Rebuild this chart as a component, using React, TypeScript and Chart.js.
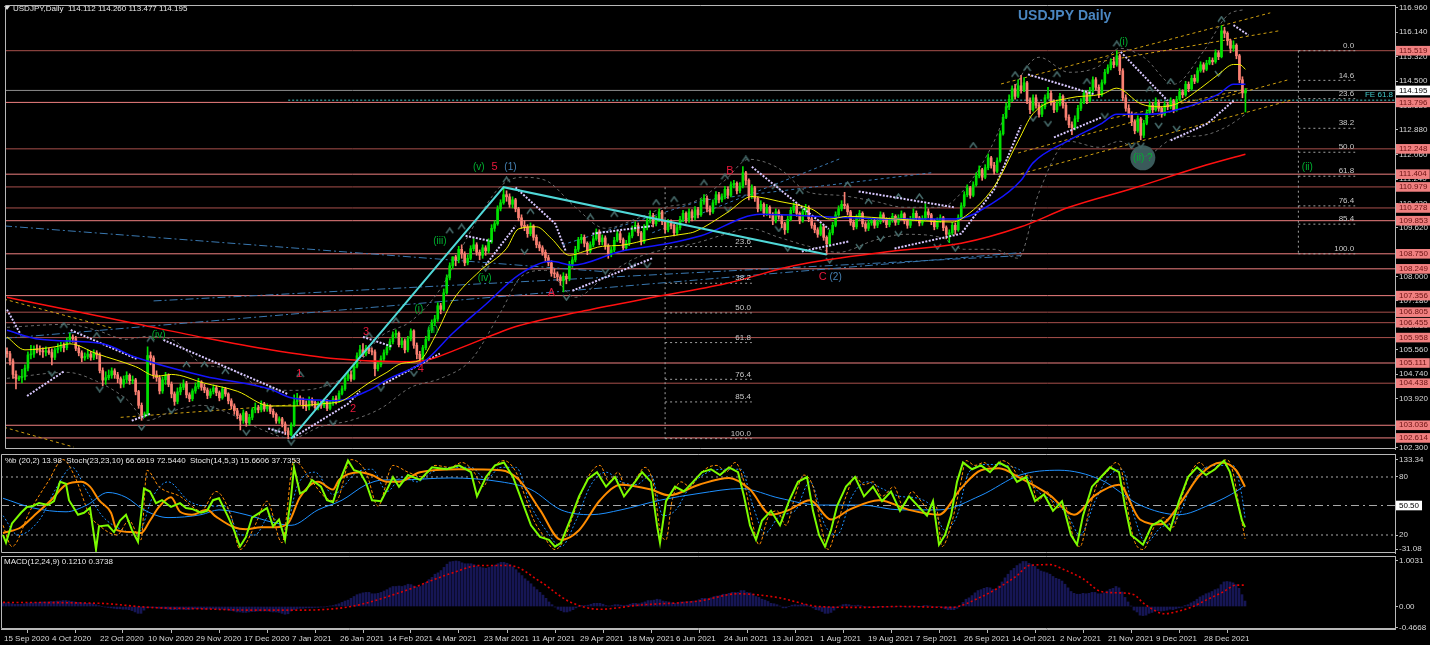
import React, { useEffect, useRef } from "react";
import { Chart, registerables } from "chart.js";

Chart.register(...registerables);

const NARROW = "'Liberation Sans Narrow','Liberation Sans',Arial,sans-serif";
const SANS = "'Liberation Sans',Arial,sans-serif";

// ---------------- price data (daily candles, bar index 0 = 15 Sep 2020) ----------------
const firstOpen = 105.5;
const closes = [
  105.42,105.18,104.73,104.58,104.62,104.66,104.94,105.38,105.41,105.58,
  105.55,105.50,105.48,105.52,105.46,105.30,105.55,105.61,105.70,105.62,
  105.85,105.98,105.92,105.60,105.45,105.28,105.33,105.41,105.30,105.45,
  105.38,104.86,104.54,104.62,104.70,104.85,104.72,104.59,104.41,104.56,
  104.70,104.52,104.55,104.16,103.70,103.38,103.41,105.36,105.28,104.72,
  104.62,104.18,104.55,104.70,104.40,104.08,103.83,104.15,104.30,104.42,
  104.05,103.92,104.18,104.32,104.48,104.30,104.21,104.03,104.16,104.28,
  104.12,103.95,104.25,104.08,103.85,103.68,103.52,103.36,103.20,103.45,
  103.12,103.30,103.55,103.62,103.55,103.75,103.58,103.68,103.50,103.40,
  103.18,103.25,103.08,102.85,102.72,103.05,103.82,103.95,103.88,103.72,
  103.65,103.90,103.80,103.62,103.75,103.70,103.85,103.60,103.78,103.92,
  103.85,104.10,104.25,104.60,104.72,104.58,105.00,105.35,105.55,105.40,
  105.60,105.52,105.48,104.92,105.05,105.25,105.45,105.62,105.82,106.05,
  106.10,105.72,105.85,105.55,105.92,106.18,105.70,105.40,105.25,105.62,
  105.90,106.20,106.45,106.58,107.02,106.90,107.45,107.95,108.35,108.65,
  108.55,108.90,108.75,108.45,108.60,108.92,109.05,108.80,108.70,108.95,
  108.85,109.15,109.60,109.75,110.25,110.45,110.72,110.65,110.40,110.55,
  110.25,109.95,109.70,109.65,109.42,109.68,109.30,109.05,108.95,108.80,
  108.62,108.45,108.10,108.08,107.98,107.85,108.00,107.92,108.40,108.55,
  108.90,109.22,109.30,109.10,108.85,109.05,109.25,109.48,109.15,109.28,
  109.02,108.75,108.88,109.20,109.42,109.22,108.95,109.10,109.35,109.58,
  109.70,109.45,109.15,109.62,109.85,110.02,109.75,109.90,110.15,109.82,
  109.55,109.80,109.70,109.45,109.62,109.90,110.10,109.88,110.15,109.95,
  110.22,110.05,110.48,110.60,110.25,110.15,110.45,110.72,110.55,110.65,
  110.90,110.70,111.05,111.10,110.85,111.00,111.45,111.20,110.68,110.95,
  110.60,110.25,110.40,110.10,110.30,110.05,109.85,110.15,110.00,109.75,
  109.55,109.90,110.20,110.35,110.10,109.85,110.15,110.30,109.92,109.70,
  109.55,109.40,109.65,109.30,109.08,109.45,109.70,110.05,110.25,110.40,
  110.35,110.15,109.80,109.65,109.95,110.10,109.75,109.60,109.78,109.85,
  109.70,109.82,110.05,109.90,109.72,109.88,110.00,109.80,109.95,110.08,
  109.85,109.70,109.90,110.10,109.95,109.78,109.92,110.15,110.05,109.82,
  109.65,109.88,109.95,109.62,109.40,109.45,109.70,109.55,109.95,110.35,
  110.72,110.95,110.70,111.05,111.35,111.55,111.30,111.62,111.95,111.70,
  111.50,111.85,112.75,113.30,113.65,113.90,114.25,114.00,114.35,114.20,
  114.45,113.85,113.55,113.95,113.70,113.40,113.65,113.95,114.10,113.80,
  113.55,113.75,114.00,113.70,113.30,113.05,112.95,113.25,113.60,113.80,
  114.10,113.85,114.20,114.55,114.30,114.05,114.45,114.80,114.95,115.15,
  115.05,115.35,114.85,113.95,113.60,113.40,113.15,112.85,113.25,112.70,
  113.10,113.45,113.70,113.55,113.80,113.60,113.40,113.72,113.65,113.85,
  113.55,113.90,114.15,114.05,114.40,114.25,114.60,114.50,114.85,115.05,
  114.90,115.10,115.20,115.15,115.45,115.32,116.18,116.10,115.85,115.60,
  115.70,115.35,114.55,114.112,114.195,
];
const highs = [
  105.62,105.50,105.25,104.85,104.68,104.90,105.05,105.48,105.70,105.68,
  105.72,105.68,105.62,105.65,105.60,105.58,105.62,105.75,105.80,105.78,
  105.95,106.11,106.05,106.00,105.70,105.52,105.45,105.55,105.50,105.55,
  105.52,105.45,104.95,104.82,104.88,104.95,104.92,104.80,104.65,104.68,
  104.82,104.75,104.68,104.60,104.20,103.78,103.48,105.65,105.48,105.35,
  104.85,104.70,104.65,104.80,104.75,104.48,104.15,104.28,104.42,104.55,
  104.50,104.12,104.25,104.45,104.60,104.52,104.40,104.28,104.25,104.38,
  104.35,104.18,104.32,104.30,104.12,103.92,103.75,103.60,103.42,103.55,
  103.50,103.40,103.62,103.78,103.70,103.85,103.80,103.75,103.72,103.58,
  103.45,103.32,103.30,103.15,102.95,103.12,104.05,104.10,104.02,103.95,
  103.85,103.98,103.95,103.85,103.82,103.85,103.92,103.90,103.85,104.00,
  104.02,104.18,104.35,104.70,104.80,104.85,105.10,105.45,105.70,105.76,
  105.70,105.68,105.62,105.55,105.15,105.35,105.55,105.72,105.92,106.15,
  106.22,106.15,105.95,105.92,106.00,106.25,106.22,105.78,105.50,105.70,
  106.00,106.30,106.55,106.70,107.12,107.10,107.58,108.05,108.45,108.65,
  108.70,109.00,109.05,108.82,108.72,109.02,109.25,109.12,108.88,109.05,
  109.02,109.25,109.72,109.85,110.35,110.55,110.97,110.85,110.75,110.65,
  110.60,110.30,110.05,109.85,109.72,109.78,109.72,109.38,109.15,109.02,
  108.88,108.70,108.52,108.25,108.15,108.05,108.12,108.08,108.50,108.65,
  109.00,109.30,109.40,109.38,109.15,109.15,109.35,109.58,109.55,109.38,
  109.35,109.08,108.98,109.30,109.52,109.50,109.28,109.20,109.45,109.68,
  109.82,109.78,109.50,109.72,109.95,110.18,110.10,110.00,110.25,110.20,
  109.88,109.90,109.88,109.75,109.72,110.00,110.20,110.15,110.25,110.22,
  110.32,110.30,110.58,110.72,110.68,110.35,110.55,110.82,110.80,110.75,
  111.00,110.98,111.15,111.20,111.15,111.12,111.66,111.50,111.25,111.05,
  111.00,110.65,110.52,110.45,110.40,110.35,110.12,110.25,110.22,110.05,
  109.80,110.00,110.30,110.45,110.42,110.15,110.25,110.40,110.35,109.98,
  109.78,109.62,109.75,109.70,109.35,109.55,109.80,110.15,110.35,110.52,
  110.80,110.42,110.20,109.88,110.05,110.20,110.15,109.82,109.88,109.95,
  109.92,109.90,110.15,110.12,109.95,109.95,110.10,110.05,110.05,110.18,
  110.12,109.92,110.00,110.25,110.18,110.00,110.02,110.42,110.25,110.10,
  109.90,109.95,110.05,110.00,109.68,109.55,109.80,109.78,110.05,110.45,
  110.82,111.05,111.00,111.15,111.45,111.68,111.60,111.72,112.08,112.00,
  111.80,111.95,112.85,113.40,113.78,114.05,114.35,114.40,114.55,114.70,
  114.62,114.50,113.95,114.05,114.05,113.78,113.75,114.05,114.30,114.18,
  113.88,113.85,114.10,114.05,113.78,113.38,113.15,113.35,113.70,113.92,
  114.20,114.15,114.30,114.65,114.62,114.38,114.55,114.90,115.05,115.25,
  115.30,115.52,115.40,114.92,114.05,113.72,113.48,113.22,113.35,113.30,
  113.20,113.55,113.82,113.78,113.95,113.88,113.65,113.82,113.80,113.95,
  113.90,114.00,114.25,114.22,114.50,114.48,114.70,114.72,114.95,115.15,
  115.12,115.20,115.30,115.28,115.55,115.52,116.35,116.30,116.15,115.90,
  115.85,115.75,115.40,114.65,114.26,
];
const lows = [
  105.30,105.05,104.60,104.25,104.52,104.45,104.55,104.85,105.25,105.30,
  105.45,105.38,105.30,105.35,105.40,105.05,105.22,105.45,105.50,105.48,
  105.55,105.78,105.80,105.52,105.35,105.15,105.20,105.25,105.20,105.22,
  105.25,104.78,104.35,104.40,104.55,104.60,104.60,104.45,104.28,104.30,
  104.45,104.40,104.42,104.05,103.60,103.20,103.30,103.35,105.05,104.60,
  104.50,104.08,104.10,104.40,104.32,103.95,103.70,103.75,104.05,104.22,
  103.95,103.82,103.85,104.10,104.25,104.20,104.12,103.92,103.95,104.08,
  104.02,103.85,103.90,104.00,103.75,103.58,103.40,103.25,102.88,103.10,
  103.00,103.05,103.22,103.45,103.45,103.48,103.50,103.50,103.42,103.30,
  103.10,103.10,102.98,102.72,102.59,102.68,103.00,103.70,103.72,103.60,
  103.52,103.55,103.68,103.52,103.55,103.60,103.62,103.52,103.55,103.70,
  103.75,103.80,104.05,104.20,104.52,104.50,104.55,104.95,105.28,105.32,
  105.35,105.42,105.38,104.68,104.85,104.98,105.18,105.38,105.55,105.75,
  105.95,105.65,105.62,105.45,105.48,105.85,105.60,105.25,105.15,105.20,
  105.55,105.85,106.12,106.35,106.50,106.75,106.85,107.40,107.88,108.25,
  108.35,108.45,108.60,108.35,108.38,108.55,108.85,108.70,108.55,108.60,
  108.70,108.78,109.10,109.50,109.70,110.18,110.40,110.50,110.30,110.28,
  110.15,109.85,109.60,109.52,109.30,109.35,109.20,108.95,108.85,108.70,
  108.50,108.35,108.00,107.95,107.85,107.70,107.48,107.75,107.85,108.30,
  108.48,108.82,109.10,108.98,108.72,108.78,108.98,109.20,109.05,109.05,
  108.90,108.60,108.65,108.82,109.15,109.12,108.85,108.88,109.02,109.28,
  109.50,109.35,109.05,109.10,109.55,109.78,109.65,109.68,109.82,109.72,
  109.45,109.48,109.58,109.35,109.38,109.55,109.82,109.78,109.80,109.85,
  109.88,109.95,110.00,110.40,110.15,110.05,110.10,110.38,110.45,110.48,
  110.58,110.60,110.65,110.95,110.75,110.78,110.95,111.05,110.55,110.60,
  110.50,110.15,110.18,110.00,110.02,109.95,109.72,109.78,109.90,109.62,
  109.40,109.45,109.85,110.12,110.00,109.75,109.80,110.05,109.82,109.60,
  109.45,109.30,109.35,109.20,108.72,109.00,109.38,109.65,109.98,110.18,
  110.25,110.05,109.70,109.55,109.58,109.88,109.65,109.50,109.52,109.70,
  109.60,109.62,109.75,109.80,109.62,109.65,109.80,109.70,109.72,109.88,
  109.75,109.60,109.62,109.85,109.85,109.68,109.70,109.85,109.95,109.72,
  109.55,109.58,109.80,109.52,109.25,109.12,109.38,109.40,109.50,109.90,
  110.30,110.65,110.60,110.65,111.00,111.28,111.20,111.25,111.55,111.60,
  111.40,111.45,111.80,112.70,113.25,113.55,113.82,113.90,113.95,114.10,
  114.15,113.75,113.42,113.50,113.60,113.30,113.32,113.58,113.90,113.70,
  113.45,113.48,113.68,113.60,113.20,112.95,112.72,112.88,113.15,113.52,
  113.75,113.75,113.80,114.12,114.20,113.95,114.00,114.40,114.75,114.88,
  114.95,115.00,114.72,113.85,113.50,113.30,113.02,112.75,112.80,112.55,
  112.62,113.05,113.40,113.45,113.50,113.50,113.30,113.35,113.55,113.58,
  113.45,113.50,113.85,113.95,114.00,114.15,114.20,114.42,114.45,114.80,
  114.80,114.85,115.05,115.05,115.10,115.22,115.28,115.95,115.70,115.45,
  115.50,115.25,114.45,113.95,113.477,
];

// ---------------- axis text ----------------
const dateLabels = [
  "15 Sep 2020","4 Oct 2020","22 Oct 2020","10 Nov 2020","29 Nov 2020","17 Dec 2020",
  "7 Jan 2021","26 Jan 2021","14 Feb 2021","4 Mar 2021","23 Mar 2021","11 Apr 2021",
  "29 Apr 2021","18 May 2021","6 Jun 2021","24 Jun 2021","13 Jul 2021","1 Aug 2021",
  "19 Aug 2021","7 Sep 2021","26 Sep 2021","14 Oct 2021","2 Nov 2021","21 Nov 2021",
  "9 Dec 2021","28 Dec 2021",
];
const dateTickBars = [0,16,32,48,64,80,96,112,128,144,160,176,192,208,224,240,256,272,288,304,320,336,352,368,384,400];
const priceTicks = [116.96,116.14,115.32,114.5,113.68,112.88,112.06,111.24,110.42,109.62,108.8,108.0,107.18,106.36,105.56,104.74,103.92,103.1,102.3];
const levelsBright = [113.796,111.404,109.853,108.750,108.249,107.356,105.111,103.036,102.614];
const levelsDark = [115.519,112.248,110.979,110.278,106.805,106.455,105.958,104.438];
const lastPrice = 114.195;
const feLevel = 113.87;

// ---------------- overlays on price ----------------
const maFast = [[0,105.98],[6,105.55],[16,105.65],[21,105.75],[30,105.42],[43,104.99],[50,104.67],[55,104.73],[66,104.44],[77,104.17],[88,103.68],[96,103.68],[105,103.75],[112,103.85],[116,104.1],[121,104.45],[127,104.8],[132,105.1],[138,105.2],[143,105.98],[149,107.19],[158,108.17],[167,108.93],[171,109.58],[177,109.65],[182,109.26],[188,108.7],[193,108.83],[199,109.0],[205,109.03],[216,109.26],[227,109.42],[230,109.49],[241,110.14],[249,110.66],[258,110.5],[269,110.24],[275,109.91],[281,110.0],[297,109.91],[316,109.81],[319,109.91],[330,110.99],[338,112.5],[343,113.42],[355,113.94],[366,114.07],[371,114.27],[379,113.75],[385,113.65],[391,113.75],[399,114.27],[405,114.73],[410,115.06],[412,115.06],[414,114.9]];
const maMid = [[0,106.2],[11,105.9],[32,105.75],[43,105.3],[66,104.67],[88,104.24],[95,103.95],[104,103.88],[110,103.85],[121,104.2],[127,104.55],[140,105.2],[149,106.1],[160,107.06],[171,108.04],[182,108.5],[189,108.37],[205,108.83],[221,109.09],[232,109.35],[252,110.07],[275,109.98],[297,109.91],[317,109.91],[330,110.47],[339,111.2],[343,111.78],[355,112.53],[366,113.1],[371,113.4],[382,113.4],[393,113.6],[405,114.07],[410,114.4],[414,114.4]];
const maSlow = [[0,107.3],[22,106.85],[44,106.4],[66,105.95],[88,105.55],[110,105.25],[132,105.15],[140,105.2],[150,105.55],[171,106.35],[193,106.85],[216,107.3],[240,107.75],[263,108.35],[297,108.85],[319,109.1],[339,109.65],[355,110.3],[377,110.95],[399,111.65],[414,112.07]];
const bbUpper = [[0,106.3],[20,106.4],[30,106.2],[40,105.9],[47,106.0],[55,105.9],[65,105.1],[75,104.9],[85,104.3],[95,104.2],[105,104.3],[115,104.8],[125,106.0],[135,106.5],[145,107.6],[155,109.5],[165,111.0],[172,111.3],[180,111.2],[190,110.3],[200,109.6],[210,109.9],[220,110.3],[230,110.5],[240,111.2],[248,111.9],[258,111.6],[268,110.8],[278,110.7],[290,110.5],[300,110.3],[312,110.3],[320,110.9],[330,112.5],[338,114.5],[345,115.3],[355,114.8],[365,115.0],[372,115.6],[380,115.3],[390,114.4],[400,115.5],[408,116.7],[414,116.9]];
const bbLower = [[0,104.6],[20,104.8],[30,104.5],[40,103.9],[47,103.2],[55,103.5],[65,103.7],[75,103.4],[85,102.9],[95,102.6],[105,103.0],[115,103.2],[125,103.6],[135,104.3],[145,104.6],[155,105.2],[165,106.8],[172,108.0],[180,108.2],[190,107.3],[200,108.0],[210,108.6],[220,108.9],[230,109.1],[240,109.4],[248,109.6],[258,109.3],[268,109.0],[278,108.8],[290,109.2],[300,109.4],[312,109.3],[320,108.9],[330,108.9],[338,108.6],[345,110.8],[355,112.5],[365,112.3],[372,112.5],[380,112.0],[390,112.6],[400,112.7],[408,113.0],[414,113.4]];
const sarSegments = [
  [[0,106.89],[4.7,106.04]],
  [[6.7,104.01],[19,104.83]],
  [[21.3,106.21],[43.3,105.25]],
  [[41.7,103.19],[48,103.42]],
  [[52.3,105.88],[94,104.07]],
  [[87.3,102.93],[93.3,102.76]],
  [[95.7,102.63],[114,103.75],[118,104.17]],
  [[119,105.98],[129,105.65]],
  [[125.7,104.4],[144.7,105.42]],
  [[153.3,109.35],[162.3,109.16]],
  [[160,108.37],[170,109.68]],
  [[170,110.96],[183.3,109.75],[186.7,108.86]],
  [[189,107.52],[215.7,108.6]],
  [[195.7,109.42],[215.7,109.68]],
  [[249,111.65],[274.7,109.58]],
  [[265.7,108.83],[281.3,109.16]],
  [[284.7,110.83],[316.7,110.3]],
  [[296.7,108.93],[319,109.42],[330,110.89],[339,113.03]],
  [[341.3,114.73],[363.3,114.07]],
  [[350,112.63],[365.7,113.29]],
  [[372.3,115.48],[388,113.85]],
  [[389,112.53],[401.3,113.09],[410,113.85]],
  [[410,116.37],[415,116.04]],
];
const upFractals = [[19,106.37],[30,106.04],[48,105.91],[60,105.06],[66,105.06],[73,104.83],[88,104.24],[98,104.73],[107,104.4],[121,106.04],[130,106.53],[148,109.52],[152,109.65],[167,111.22],[175,110.17],[195,109.98],[203,110.07],[217,110.47],[223,110.57],[233,111.12],[240,111.32],[247,111.91],[257,110.99],[265,110.83],[281,111.06],[288,110.5],[298,110.66],[305,110.66],[323,112.37],[337,114.73],[341,114.93],[351,114.73],[361,114.5],[371,115.75],[382,114.24],[389,114.5],[406,116.57]];
const downFractals = [[15,104.76],[31,104.24],[38,103.91],[45,102.96],[55,103.52],[68,103.58],[80,102.8],[90,102.86],[95,102.47],[109,103.12],[125,104.27],[136,104.76],[160,108.27],[173,108.83],[187,107.29],[200,108.17],[209,108.37],[214,108.37],[241,110.24],[258,109.58],[261,108.93],[275,108.53],[285,108.99],[292,109.26],[298,109.42],[311,108.99],[317,108.93],[343,113.26],[348,113.09],[367,113.35],[376,112.37],[379,112.37],[385,113.03],[391,112.93],[405,114.76]];
const impulseLine = [[95,102.59],[166,110.97],[274,108.73]];
const dashDotLines = [
  [[-1,109.68],[199,108.16]],
  [[-1,105.93],[339,108.79]],
  [[49,107.18],[339,108.69]],
];
const blueDashLines = [
  [[215.7,109.45],[279,111.94]],
  [[232.3,110.53],[309,111.45]],
  [[185.7,109.05],[232.3,110.53]],
];
const goldDashLines = [
  [[332.3,114.41],[422.3,116.78]],
  [[364.7,115.14],[425.7,116.19]],
  [[338,112.11],[428,114.54]],
  [[339,111.42],[430,113.89]],
  [[369,113.26],[414.7,114.25]],
  [[-1,107.24],[35.7,106.26]],
  [[-1,102.97],[22.3,102.31]],
  [[38,103.3],[95.7,103.72]],
];
const fibLeft = { high: 110.97, low: 102.59, fromBar: 220, toBar: 249 };
const fibLeftLevels = [23.6, 38.2, 50.0, 61.8, 76.4, 85.4, 100.0];
const fibRight = { high: 115.519, low: 108.75, fromBar: 431.7, toBar: 450.7 };
const fibRightLevels = [0.0, 14.6, 23.6, 38.2, 50.0, 61.8, 76.4, 85.4, 100.0];

const waveGreen = [["(i)",373.3,115.79],["(v)",157.7,111.65],["(iii)",144.7,109.18],["(iv)",159.7,107.93],["(i)",137.7,106.91],["(ii)",142.3,106.19],["(iv)",50.7,106.04],["(ii)",434.7,111.65]];
const waveRed = [["5",163,111.65],["B",241.7,111.52],["A",182,107.44],["C",272.7,107.97],["3",120,106.16],["1",97.7,104.75],["2",115.7,103.59],["4",138.3,104.91]];
const waveBlue = [["(1)",168.3,111.65],["(2)",277,107.97]];
const waveCircle = ["(ii) ?", 379.7, 111.95];

// ---------------- oscillator panel ----------------
const stochPctB = [[0,20],[1,12],[3,32],[6,43],[8,49],[10,50],[12,53],[15,51],[17,55],[19,75],[21,73],[22,56],[25,41],[27,43],[29,48],[31,5],[32,29],[35,30],[37,23],[39,35],[41,41],[43,25],[45,13],[47,68],[49,65],[51,53],[53,56],[56,49],[59,53],[61,48],[63,47],[66,43],[68,45],[70,56],[72,58],[75,39],[77,25],[79,8],[81,18],[83,38],[86,44],[88,48],[90,29],[92,36],[94,15],[96,59],[97,90],[99,63],[101,66],[103,77],[106,70],[108,56],[110,54],[112,74],[115,97],[117,87],[119,85],[121,74],[123,56],[126,55],[128,67],[130,80],[132,70],[135,82],[139,77],[143,90],[148,88],[152,92],[156,85],[158,60],[161,80],[164,92],[167,95],[170,80],[173,55],[176,30],[179,18],[182,15],[184,8],[186,12],[189,35],[192,60],[195,78],[198,85],[201,70],[204,80],[207,60],[210,72],[213,85],[216,75],[218,30],[219,12],[221,55],[224,70],[227,65],[230,75],[233,85],[236,88],[239,82],[242,90],[245,85],[247,60],[249,30],[251,15],[253,35],[256,45],[259,30],[262,55],[265,75],[268,80],[270,45],[272,20],[274,8],[276,25],[278,50],[281,70],[284,80],[287,60],[290,70],[293,55],[296,65],[299,45],[302,60],[305,50],[308,40],[310,55],[312,10],[314,20],[316,40],[318,75],[320,95],[323,88],[326,92],[329,85],[332,95],[335,90],[338,75],[341,80],[344,55],[347,62],[350,45],[353,55],[356,20],[358,10],[360,40],[363,70],[366,80],[369,90],[372,85],[374,50],[376,20],[378,15],[380,10],[383,30],[386,35],[389,25],[392,55],[395,80],[398,90],[401,82],[404,88],[407,97],[409,85],[411,60],[413,35],[414,28]];
const stochMain = [[0,22],[6,28],[10,39],[16,56],[21,72],[26,75],[29,70],[32,56],[36,43],[38,25],[43,23],[46,22],[49,35],[52,49],[56,59],[59,44],[63,41],[68,46],[71,39],[77,28],[81,26],[86,28],[91,28],[95,32],[99,59],[105,75],[110,67],[112,77],[119,85],[123,82],[128,75],[132,75],[139,85],[152,88],[166,87],[172,77],[179,46],[186,15],[192,25],[199,56],[206,72],[216,67],[222,61],[232,72],[242,79],[249,67],[256,41],[262,46],[269,56],[276,36],[282,46],[292,56],[302,46],[312,41],[319,67],[326,87],[332,89],[339,79],[349,61],[357,41],[364,61],[372,72],[379,36],[386,31],[392,51],[399,82],[406,95],[411,87],[414,70]];
const stochSignal = [[0,58],[10,48],[21,44],[28,51],[35,64],[41,59],[47,46],[55,38],[66,41],[72,46],[81,41],[90,33],[96,30],[105,46],[113,56],[121,72],[127,77],[132,77],[149,79],[166,75],[176,67],[186,46],[196,41],[206,46],[219,56],[232,63],[246,68],[259,58],[272,51],[286,51],[299,46],[312,46],[326,61],[339,82],[352,87],[366,77],[379,51],[392,41],[402,51],[412,67],[414,72]];
const stochFastMain = [[0,30],[3,8],[9,45],[15,75],[20,98],[24,80],[29,40],[32,30],[38,20],[42,35],[46,15],[48,87],[52,70],[59,60],[66,45],[71,65],[76,40],[79,5],[84,30],[88,55],[93,12],[97,97],[102,80],[107,60],[111,55],[116,98],[121,85],[125,50],[130,92],[135,85],[140,80],[144,92],[149,90],[153,95],[157,85],[160,70],[163,88],[167,97],[171,85],[174,60],[177,35],[180,20],[184,5],[187,15],[190,40],[193,65],[196,85],[199,92],[202,75],[205,85],[208,65],[211,78],[214,90],[217,70],[219,25],[221,15],[223,55],[226,75],[229,70],[232,82],[235,90],[238,92],[241,85],[244,95],[247,75],[250,30],[252,10],[255,38],[258,45],[261,30],[264,60],[267,82],[270,70],[273,25],[275,5],[278,30],[281,60],[284,80],[287,72],[290,75],[293,60],[297,70],[300,50],[303,65],[306,55],[309,45],[311,50],[313,8],[316,30],[319,70],[321,97],[324,92],[327,95],[330,88],[333,97],[336,92],[339,80],[342,82],[345,55],[348,65],[351,48],[354,50],[357,15],[359,8],[362,45],[365,75],[368,85],[371,95],[373,85],[375,45],[377,15],[380,5],[384,30],[387,38],[390,28],[393,60],[396,85],[399,95],[402,85],[405,92],[408,98],[410,85],[412,50],[414,16]];
const stochFastSignal = [[0,40],[5,20],[12,35],[18,70],[23,90],[28,65],[33,40],[40,25],[45,22],[50,60],[55,75],[62,55],[68,50],[74,50],[79,20],[84,20],[89,40],[94,25],[98,70],[104,85],[110,62],[118,85],[123,88],[128,65],[133,80],[138,75],[143,85],[150,90],[156,90],[161,78],[166,90],[171,90],[176,50],[181,25],[186,8],[191,35],[196,72],[201,85],[206,75],[211,72],[216,82],[220,40],[224,45],[229,70],[235,85],[241,88],[246,88],[250,50],[254,22],[259,40],[264,45],[269,75],[274,30],[278,20],[283,60],[288,75],[293,68],[299,60],[305,58],[310,48],[314,25],[318,40],[322,85],[328,93],[334,92],[340,85],[345,65],[350,55],[355,40],[359,20],[364,55],[369,82],[373,88],[377,40],[381,12],[386,28],[391,35],[396,70],[401,90],[406,92],[410,92],[413,60],[414,38]];
const stochAxis = [[97.6,"133.34"],[80,"80"],[50.5,"50.50"],[20,"20"],[5.5,"-31.08"]];
const stochLevels = [80, 50.5, 20];

// ---------------- MACD panel ----------------
const macdHist = [
  0.08,0.08,0.07,0.06,0.05,0.05,0.05,0.06,0.07,0.08,
  0.08,0.09,0.09,0.10,0.10,0.10,0.11,0.11,0.12,0.12,
  0.13,0.13,0.12,0.11,0.10,0.09,0.08,0.08,0.07,0.07,
  0.06,0.04,0.02,0.00,-0.01,-0.02,-0.03,-0.04,-0.05,-0.05,
  -0.06,-0.06,-0.07,-0.09,-0.12,-0.15,-0.15,-0.08,-0.03,-0.02,
  -0.02,-0.03,-0.04,-0.04,-0.05,-0.06,-0.07,-0.07,-0.07,-0.06,
  -0.06,-0.07,-0.07,-0.06,-0.05,-0.05,-0.05,-0.06,-0.06,-0.05,
  -0.05,-0.06,-0.06,-0.06,-0.07,-0.08,-0.09,-0.10,-0.12,-0.12,
  -0.13,-0.13,-0.12,-0.11,-0.11,-0.10,-0.10,-0.10,-0.10,-0.11,
  -0.12,-0.12,-0.13,-0.15,-0.17,-0.16,-0.10,-0.07,-0.05,-0.04,
  -0.04,-0.03,-0.03,-0.03,-0.02,-0.02,-0.01,-0.01,0.00,0.01,
  0.02,0.04,0.06,0.09,0.12,0.14,0.18,0.22,0.26,0.28,
  0.30,0.31,0.31,0.28,0.28,0.29,0.31,0.34,0.37,0.41,
  0.44,0.44,0.45,0.44,0.46,0.49,0.48,0.45,0.43,0.44,
  0.48,0.53,0.59,0.64,0.71,0.74,0.79,0.86,0.93,0.98,
  0.99,1.00,0.99,0.96,0.94,0.94,0.94,0.92,0.89,0.87,
  0.85,0.84,0.86,0.88,0.91,0.94,0.97,0.97,0.95,0.92,
  0.87,0.81,0.74,0.68,0.61,0.56,0.50,0.43,0.37,0.31,
  0.25,0.18,0.10,0.04,-0.01,-0.06,-0.09,-0.12,-0.12,-0.10,
  -0.07,-0.03,0.00,0.02,0.02,0.03,0.05,0.07,0.07,0.07,
  0.05,0.02,0.01,0.02,0.04,0.04,0.03,0.02,0.03,0.05,
  0.07,0.07,0.06,0.08,0.10,0.13,0.13,0.14,0.16,0.15,
  0.12,0.11,0.10,0.08,0.07,0.08,0.10,0.10,0.11,0.11,
  0.12,0.12,0.15,0.18,0.18,0.17,0.19,0.22,0.23,0.24,
  0.27,0.27,0.29,0.31,0.31,0.31,0.35,0.35,0.31,0.30,
  0.27,0.22,0.20,0.16,0.14,0.11,0.07,0.06,0.04,0.01,
  -0.03,-0.03,0.00,0.03,0.04,0.03,0.04,0.05,0.03,0.00,
  -0.03,-0.07,-0.08,-0.11,-0.15,-0.15,-0.13,-0.08,-0.03,0.01,
  0.04,0.05,0.04,0.02,0.02,0.03,0.02,0.00,-0.01,-0.01,
  -0.02,-0.02,0.00,0.00,-0.01,-0.01,0.00,-0.01,0.00,0.01,
  0.00,-0.01,-0.01,0.01,0.01,0.00,0.00,0.02,0.02,0.01,
  -0.01,-0.01,0.00,-0.02,-0.05,-0.07,-0.07,-0.07,-0.04,0.02,
  0.09,0.16,0.19,0.24,0.30,0.35,0.37,0.40,0.42,0.41,
  0.38,0.38,0.45,0.54,0.63,0.71,0.79,0.84,0.90,0.94,
  0.99,0.99,0.95,0.92,0.88,0.82,0.78,0.76,0.74,0.71,
  0.66,0.62,0.60,0.56,0.49,0.41,0.33,0.29,0.27,0.27,
  0.29,0.28,0.29,0.31,0.31,0.28,0.28,0.30,0.34,0.38,
  0.40,0.44,0.41,0.32,0.20,0.10,0.01,-0.08,-0.12,-0.19,
  -0.20,-0.19,-0.15,-0.13,-0.10,-0.09,-0.10,-0.09,-0.08,-0.06,
  -0.07,-0.05,-0.03,-0.02,0.02,0.04,0.08,0.11,0.16,0.21,
  0.24,0.28,0.30,0.33,0.37,0.39,0.48,0.54,0.55,0.54,
  0.52,0.48,0.40,0.26,0.12,
];
const macdSignal = [[0,0.09],[32,0.07],[49,-0.02],[66,-0.05],[83,-0.08],[99,-0.08],[116,0.0],[132,0.3],[149,0.72],[159,0.9],[169,0.9],[179,0.55],[189,0.1],[199,-0.06],[212,0.03],[232,0.12],[245,0.28],[258,0.2],[272,0.0],[285,-0.02],[299,0.0],[316,-0.02],[326,0.21],[332,0.42],[338,0.68],[342,0.9],[349,0.92],[354,0.8],[360,0.61],[366,0.33],[372,0.3],[377,0.26],[380,0.08],[384,-0.09],[387,-0.16],[392,-0.1],[396,-0.02],[401,0.14],[407,0.33],[411,0.47],[414,0.47]];
const macdAxis = [[1.0031,"1.0031"],[0,"0.00"],[-0.4668,"-0.4668"]];

// ---------------- layout constants ----------------
const X_MIN = -2 / 3;
const X_MAX = 464;
const P_MAX = 117.042;
const P_MIN = 102.245;
const S_MAX = 103.79;
const S_MIN = 1.38;
const M_MAX = 1.11;
const M_MIN = -0.4945;

const UP = "#00e000";
const DOWN = "#fa8072";
const GREEN_TXT = "#00b030";
const RED_TXT = "#e8183c";
const BLUE_TXT = "#4682b4";
const AXIS = "#b8b8b8";

const xy = (pts) => pts.map((p) => ({ x: p[0], y: p[1] }));

function lineDs(pts, color, width, dash = [], order = 50, tension = 0) {
  return {
    type: "line",
    data: xy(pts),
    borderColor: color,
    borderWidth: width,
    borderDash: dash,
    pointRadius: 0,
    fill: false,
    tension,
    cubicInterpolationMode: tension ? "monotone" : "default",
    order,
  };
}

function hLine(v, color, width, dash = [], order = 100, from = X_MIN, to = X_MAX) {
  return lineDs([[from, v], [to, v]], color, width, dash, order);
}

function drawText(ctx, text, x, y, color, font, align = "center", baseline = "middle") {
  ctx.save();
  ctx.fillStyle = color;
  ctx.font = font;
  ctx.textAlign = align;
  ctx.textBaseline = baseline;
  ctx.fillText(text, x, y);
  ctx.restore();
}

function drawFrame(chart) {
  const { ctx, chartArea: a } = chart;
  ctx.save();
  ctx.strokeStyle = AXIS;
  ctx.lineWidth = 1;
  ctx.beginPath();
  ctx.moveTo(a.right, a.top + 0.5);
  ctx.lineTo(a.left + 0.5, a.top + 0.5);
  ctx.lineTo(a.left + 0.5, a.bottom - 0.5);
  ctx.lineTo(a.right, a.bottom - 0.5);
  ctx.stroke();
  ctx.restore();
}

function rightAxis(min, max, items) {
  return {
    type: "linear",
    position: "right",
    min,
    max,
    bounds: "data",
    afterBuildTicks: (ax) => {
      ax.ticks = items.map((k) => ({ value: k.v }));
    },
    afterFit: (ax) => {
      ax.width = 35;
      ax.paddingTop = 0;
      ax.paddingBottom = 0;
    },
    grid: { drawOnChartArea: false, drawTicks: true, tickLength: 3, color: AXIS },
    border: { display: true, color: AXIS, width: 1 },
    ticks: {
      autoSkip: false,
      padding: 1,
      font: { family: NARROW, size: 8 },
      callback: (_v, i) => (items[i] ? items[i].t : ""),
      color: (c) => {
        const k = items[c.index] ? items[c.index].kind : "plain";
        return k === "plain" ? "#d8d8d8" : k === "current" ? "#000000" : "#6a1010";
      },
      showLabelBackdrop: (c) => !!items[c.index] && items[c.index].kind !== "plain",
      backdropColor: (c) => {
        const k = items[c.index] ? items[c.index].kind : "plain";
        return k === "current" ? "#ffffff" : k === "plain" ? "rgba(0,0,0,0)" : "#f08080";
      },
      backdropPadding: { left: 3, right: 3, top: 0, bottom: 0 },
    },
  };
}

const hiddenX = { type: "linear", min: X_MIN, max: X_MAX, display: false, offset: false, bounds: "data" };

function makeChevron(up) {
  const c = document.createElement("canvas");
  c.width = 9;
  c.height = 7;
  const g = c.getContext("2d");
  g.strokeStyle = "#4a7070";
  g.lineWidth = 1.4;
  g.beginPath();
  if (up) {
    g.moveTo(1, 6); g.lineTo(4.5, 1); g.lineTo(8, 6);
  } else {
    g.moveTo(1, 1); g.lineTo(4.5, 6); g.lineTo(8, 1);
  }
  g.stroke();
  return c;
}

function buildMain() {
  const opens = closes.map((c, i) => (i === 0 ? firstOpen : closes[i - 1]));
  const colors = closes.map((c, i) => (c >= opens[i] ? UP : DOWN));
  const n = closes.length;

  const axisItems = [
    ...priceTicks.map((v) => ({ v, t: v.toFixed(3), kind: "plain" })),
    ...levelsDark.map((v) => ({ v, t: v.toFixed(3), kind: "level" })),
    ...levelsBright.map((v) => ({ v, t: v.toFixed(3), kind: "level" })),
    { v: lastPrice, t: lastPrice.toFixed(3), kind: "current" },
  ];

  const datasets = [];
  levelsBright.forEach((v) => datasets.push(hLine(v, "#f08080", 1, [], 100)));
  levelsDark.forEach((v) => datasets.push(hLine(v, "#a8504c", 1, [], 100)));
  datasets.push(hLine(lastPrice, "#8c8c8c", 1, [], 99));
  datasets.push(hLine(feLevel, "#40c8c8", 1, [2, 2], 99, 94));

  datasets.push(lineDs([[fibLeft.fromBar, fibLeft.high], [fibLeft.fromBar, fibLeft.low]], "#a0a0a0", 1, [2, 3], 95));
  fibLeftLevels.forEach((r) => {
    const p = fibLeft.high - ((fibLeft.high - fibLeft.low) * r) / 100;
    datasets.push(lineDs([[fibLeft.fromBar, p], [fibLeft.toBar, p]], "#a0a0a0", 1, [2, 3], 95));
  });
  datasets.push(lineDs([[fibRight.fromBar, fibRight.high], [fibRight.fromBar, fibRight.low]], "#a0a0a0", 1, [2, 3], 95));
  fibRightLevels.forEach((r) => {
    const p = fibRight.high - ((fibRight.high - fibRight.low) * r) / 100;
    datasets.push(lineDs([[fibRight.fromBar, p], [fibRight.toBar, p]], "#a0a0a0", 1, [2, 3], 95));
  });

  dashDotLines.forEach((l) => datasets.push(lineDs(l, "#3a78b0", 1, [8, 3, 2, 3], 94)));
  blueDashLines.forEach((l) => datasets.push(lineDs(l, "#3a78b0", 1, [3, 3], 94)));
  goldDashLines.forEach((l) => datasets.push(lineDs(l, "#d0a010", 1, [3, 3], 94)));
  datasets.push(lineDs(bbUpper, "#6a6a6a", 1, [3, 3], 93, 0.4));
  datasets.push(lineDs(bbLower, "#6a6a6a", 1, [3, 3], 93, 0.4));

  const chevUp = makeChevron(true);
  const chevDown = makeChevron(false);
  datasets.push({ type: "line", data: xy(upFractals), showLine: false, pointStyle: chevUp, pointRadius: 4, order: 90 });
  datasets.push({ type: "line", data: xy(downFractals), showLine: false, pointStyle: chevDown, pointRadius: 4, order: 90 });

  datasets.push({
    type: "bar",
    data: highs.map((h, i) => ({ x: i, y: [lows[i], h] })),
    backgroundColor: colors,
    barThickness: 1,
    grouped: false,
    minBarLength: 1,
    order: 61,
  });
  datasets.push({
    type: "bar",
    data: closes.map((c, i) => ({ x: i, y: [opens[i], c] })),
    backgroundColor: colors,
    barThickness: 2,
    grouped: false,
    minBarLength: 1,
    order: 60,
  });

  sarSegments.forEach((s) => datasets.push(lineDs(s, "#d8c8ff", 2, [2, 1.5], 40)));
  datasets.push(lineDs(maSlow, "#ff1010", 1.5, [], 12, 0.4));
  datasets.push(lineDs(maMid, "#1414ff", 1.5, [], 11, 0.4));
  datasets.push(lineDs(maFast, "#f0f000", 1, [], 10, 0.4));
  datasets.push(lineDs(impulseLine, "#50d8d8", 2, [], 5));

  const overlay = {
    id: "mainOverlay",
    afterDatasetsDraw(chart) {
      const { ctx, chartArea: a } = chart;
      const x = chart.scales.x;
      const y = chart.scales.y;
      const cx = x.getPixelForValue(waveCircle[1]);
      const cy = y.getPixelForValue(waveCircle[2]);
      ctx.save();
      ctx.fillStyle = "rgba(64,100,100,0.9)";
      ctx.beginPath();
      ctx.arc(cx, cy, 12.5, 0, Math.PI * 2);
      ctx.fill();
      ctx.restore();
      drawText(ctx, waveCircle[0], cx, cy, GREEN_TXT, `10px ${SANS}`);
      const f = `10px ${SANS}`;
      waveGreen.forEach((w) => drawText(ctx, w[0], x.getPixelForValue(w[1]), y.getPixelForValue(w[2]), GREEN_TXT, f));
      waveRed.forEach((w) => drawText(ctx, w[0], x.getPixelForValue(w[1]), y.getPixelForValue(w[2]), RED_TXT, `11px ${SANS}`));
      waveBlue.forEach((w) => drawText(ctx, w[0], x.getPixelForValue(w[1]), y.getPixelForValue(w[2]), BLUE_TXT, f));
      const ff = `8px ${NARROW}`;
      fibLeftLevels.forEach((r) => {
        const p = fibLeft.high - ((fibLeft.high - fibLeft.low) * r) / 100;
        drawText(ctx, r.toFixed(1), x.getPixelForValue(fibLeft.toBar) - 1, y.getPixelForValue(p) - 1, "#c8c8c8", ff, "right", "bottom");
      });
      fibRightLevels.forEach((r) => {
        const p = fibRight.high - ((fibRight.high - fibRight.low) * r) / 100;
        drawText(ctx, r.toFixed(1), x.getPixelForValue(fibRight.toBar) - 1, y.getPixelForValue(p) - 1, "#c8c8c8", ff, "right", "bottom");
      });
      drawText(ctx, "FE 61.8", a.right - 2, y.getPixelForValue(feLevel) - 1, "#40c8c8", `8px ${NARROW}`, "right", "bottom");
      drawText(ctx, "USDJPY Daily", 1018, 16, "#4a86c0", `bold 14px ${SANS}`, "left", "middle");
      const last = n - 1;
      const hdr = `USDJPY,Daily  ${opens[last].toFixed(3)} ${highs[last].toFixed(3)} ${lows[last].toFixed(3)} ${closes[last].toFixed(3)}`;
      ctx.save();
      ctx.fillStyle = "#e0e0e0";
      ctx.beginPath();
      ctx.moveTo(4, 6); ctx.lineTo(10, 6); ctx.lineTo(7, 10); ctx.closePath();
      ctx.fill();
      ctx.restore();
      drawText(ctx, hdr, 13, 8.5, "#e8e8e8", `8px ${NARROW}`, "left", "middle");
      drawFrame(chart);
    },
  };

  return {
    type: "bar",
    data: { datasets },
    options: {
      responsive: false,
      animation: false,
      devicePixelRatio: 1,
      events: [],
      layout: { padding: { left: 1, top: 2, bottom: 2, right: 0 } },
      plugins: { legend: { display: false }, tooltip: { enabled: false } },
      scales: { x: hiddenX, y: rightAxis(P_MIN, P_MAX, axisItems) },
    },
    plugins: [overlay],
  };
}

function buildStoch() {
  const items = stochAxis.map((s) => ({ v: s[0], t: s[1], kind: s[1] === "50.50" ? "current" : "plain" }));
  const datasets = [
    hLine(stochLevels[0], "#a8a8a8", 1, [2, 3], 100),
    hLine(stochLevels[1], "#a8a8a8", 1, [8, 4, 2, 4], 100),
    hLine(stochLevels[2], "#a8a8a8", 1, [2, 3], 100),
    lineDs(stochFastSignal, "#1e90ff", 1, [2, 2], 40, 0.3),
    lineDs(stochFastMain, "#ff8c00", 1, [3, 2], 35, 0.3),
    lineDs(stochSignal, "#1e90ff", 1, [], 30, 0.4),
    lineDs(stochMain, "#ff8c00", 2, [], 20, 0.4),
    lineDs(stochPctB, "#7cfc00", 2, [], 10, 0),
  ];
  const overlay = {
    id: "stochOverlay",
    afterDatasetsDraw(chart) {
      drawText(chart.ctx, "%b (20,2) 13.98  Stoch(23,23,10) 66.6919 72.5440  Stoch(14,5,3) 15.6606 37.7353", 5, 8, "#e8e8e8", `8px ${NARROW}`, "left", "middle");
      drawFrame(chart);
    },
  };
  return {
    type: "line",
    data: { datasets },
    options: {
      responsive: false,
      animation: false,
      devicePixelRatio: 1,
      events: [],
      layout: { padding: { left: 1, top: 1, bottom: 1, right: 0 } },
      plugins: { legend: { display: false }, tooltip: { enabled: false } },
      scales: { x: hiddenX, y: rightAxis(S_MIN, S_MAX, items) },
    },
    plugins: [overlay],
  };
}

function buildMacd() {
  const items = macdAxis.map((s) => ({ v: s[0], t: s[1], kind: "plain" }));
  const datasets = [
    {
      type: "bar",
      data: macdHist.map((v, i) => ({ x: i, y: v })),
      backgroundColor: "#161654",
      barThickness: 2,
      grouped: false,
      order: 20,
    },
    lineDs(macdSignal, "#e00000", 1.6, [2, 2.5], 10, 0.4),
  ];
  const overlay = {
    id: "macdOverlay",
    afterDatasetsDraw(chart) {
      drawText(chart.ctx, "MACD(12,24,9) 0.1210 0.3738", 4, 7, "#e8e8e8", `8px ${NARROW}`, "left", "middle");
      drawFrame(chart);
    },
  };
  return {
    type: "bar",
    data: { datasets },
    options: {
      responsive: false,
      animation: false,
      devicePixelRatio: 1,
      events: [],
      layout: { padding: { left: 1, top: 1, bottom: 0, right: 0 } },
      plugins: { legend: { display: false }, tooltip: { enabled: false } },
      scales: {
        x: {
          type: "linear",
          min: X_MIN,
          max: X_MAX,
          offset: false,
          bounds: "data",
          position: "bottom",
          afterBuildTicks: (ax) => {
            ax.ticks = dateTickBars.map((v) => ({ value: v }));
          },
          afterFit: (ax) => {
            ax.height = 16;
            ax.paddingLeft = 0;
            ax.paddingRight = 0;
          },
          grid: { drawOnChartArea: false, drawTicks: true, tickLength: 4, color: AXIS },
          border: { display: true, color: AXIS },
          ticks: {
            autoSkip: false,
            maxRotation: 0,
            minRotation: 0,
            align: "start",
            padding: 1,
            labelOffset: 1,
            font: { family: NARROW, size: 8 },
            color: "#d8d8d8",
            callback: (_v, i) => dateLabels[i] || "",
          },
        },
        y: rightAxis(M_MIN, M_MAX, items),
      },
    },
    plugins: [overlay],
  };
}

export default function App() {
  const mainRef = useRef(null);
  const stochRef = useRef(null);
  const macdRef = useRef(null);

  useEffect(() => {
    const charts = [
      new Chart(mainRef.current, buildMain()),
      new Chart(stochRef.current, buildStoch()),
      new Chart(macdRef.current, buildMacd()),
    ];
    return () => charts.forEach((c) => c.destroy());
  }, []);

  return (
    <div style={{ position: "fixed", left: 0, top: 0, width: 1430, height: 645, background: "#000", overflow: "hidden" }}>
      <canvas ref={mainRef} width={1430} height={454} style={{ position: "absolute", left: 0, top: 0, width: 1430, height: 454 }} />
      <canvas ref={stochRef} width={1430} height={101} style={{ position: "absolute", left: 0, top: 453, width: 1430, height: 101 }} />
      <canvas ref={macdRef} width={1430} height={90} style={{ position: "absolute", left: 0, top: 555, width: 1430, height: 90 }} />
    </div>
  );
}
